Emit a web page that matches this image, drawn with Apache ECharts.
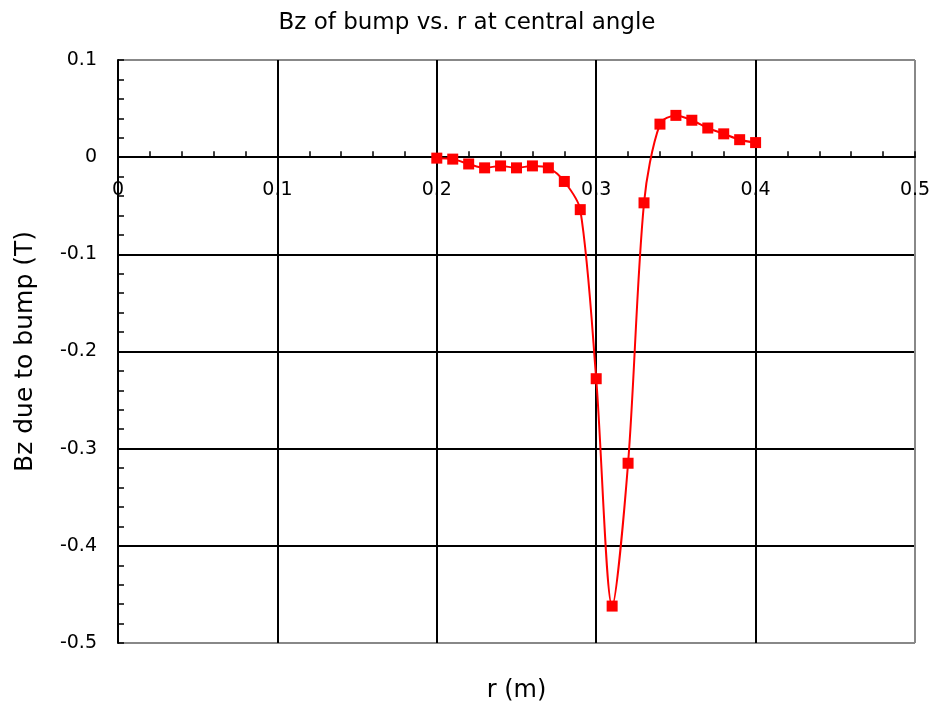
<!DOCTYPE html>
<html><head><meta charset="utf-8">
<script src="https://cdn.jsdelivr.net/npm/echarts@6/dist/echarts.min.js"></script>
<style>html,body{margin:0;padding:0;background:#fff}#c{width:934px;height:707px}</style>
</head><body><div id="c"></div>
<script>
const rValues = [0.20,0.21,0.22,0.23,0.24,0.25,0.26,0.27,0.28,0.29,0.30,0.31,0.32,0.33,0.34,0.35,0.36,0.37,0.38,0.39,0.40];
const bzValues = [-0.001,-0.002,-0.007,-0.011,-0.009,-0.011,-0.009,-0.011,-0.025,-0.054,-0.228,-0.462,-0.315,-0.047,0.034,0.043,0.038,0.030,0.024,0.018,0.015];
const titleText = 'Bz of bump vs. r at central angle';
const xName = 'r (m)';
const yName = 'Bz due to bump (T)';

const chart = echarts.init(document.getElementById('c'), null, {renderer:'canvas'});
const font = 'DejaVu Sans, sans-serif';
const fmt = v => v === 0 ? '0' : v.toFixed(1);
chart.setOption({
  animation:false,
  backgroundColor:'#fff',
  title:{text:titleText,left:'center',top:7,textStyle:{fontFamily:font,fontSize:23,fontWeight:'normal',color:'#000'}},
  grid:[
    {left:118,right:19,top:60,bottom:64,show:false,outerBoundsMode:'none',containLabel:false},
    {left:118,right:19,top:60,height:97.17,show:false,outerBoundsMode:'none',containLabel:false}
  ],
  xAxis:[{
    gridIndex:0,type:'value',min:0,max:0.5,interval:0.1,
    name:xName,nameLocation:'middle',nameGap:36,nameMoveOverlap:false,
    nameTextStyle:{fontFamily:font,fontSize:24,color:'#000'},
    axisLine:{show:false},axisTick:{show:false},axisLabel:{show:false},
    splitLine:{show:true,lineStyle:{color:['#000','#000','#000','#000','#000','#888'],width:2}}
  },{
    gridIndex:1,type:'value',min:0,max:0.5,interval:0.1,position:'bottom',
    axisLine:{show:true,onZero:false,lineStyle:{color:'#000',width:2}},
    axisTick:{show:true,inside:true,length:6,lineStyle:{color:'#000',width:1.5}},
    minorTick:{show:true,splitNumber:5,length:6,lineStyle:{color:'#000',width:1.5}},
    axisLabel:{fontFamily:font,fontSize:19,color:'#000',margin:23,formatter:fmt},
    splitLine:{show:false}
  }],
  yAxis:[{
    gridIndex:0,type:'value',min:-0.5,max:0.1,interval:0.1,
    name:yName,nameLocation:'middle',nameGap:80,nameRotate:90,
    nameTextStyle:{fontFamily:font,fontSize:25,color:'#000'},
    axisLine:{show:true,onZero:false,lineStyle:{color:'#000',width:2}},
    axisTick:{show:true,inside:true,length:6,lineStyle:{color:'#000',width:1.5}},
    minorTick:{show:true,splitNumber:5,length:6,lineStyle:{color:'#000',width:1.5}},
    axisLabel:{fontFamily:font,fontSize:19,color:'#000',margin:21,formatter:fmt},
    splitLine:{show:true,lineStyle:{color:['#888','#000','#000','#000','#000','#000','#888'],width:2}}
  },{
    gridIndex:1,type:'value',min:0,max:0.1,show:false
  }],
  series:[{
    type:'line',xAxisIndex:0,yAxisIndex:0,
    data:rValues.map((r,i)=>[r,bzValues[i]]),
    smooth:0.3,
    symbol:'rect',symbolSize:11,
    itemStyle:{color:'#ff0000'},
    lineStyle:{color:'#ff0000',width:2},
    z:5
  }]
});
</script>
</body></html>
